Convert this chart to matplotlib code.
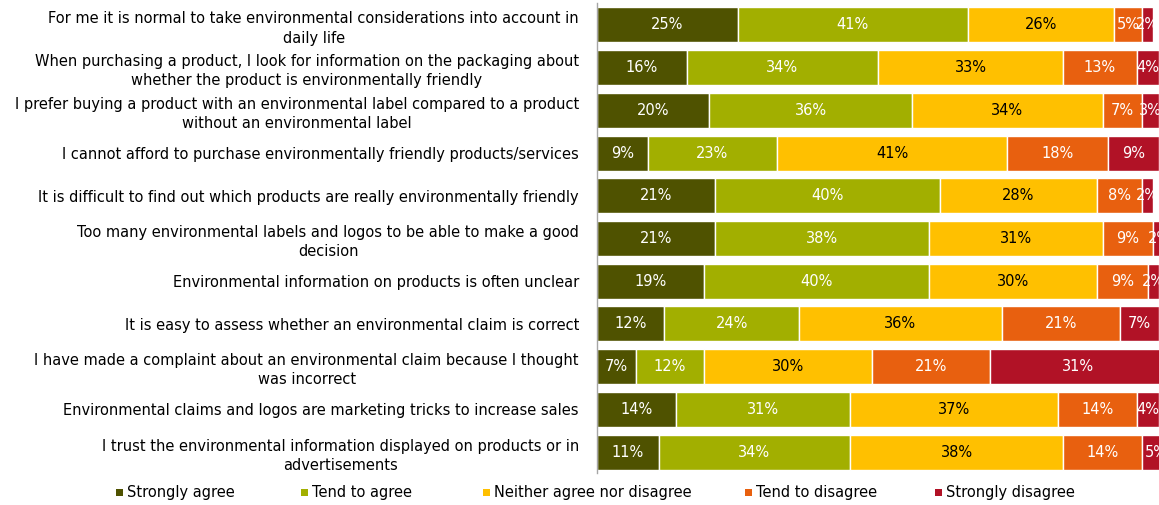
import matplotlib
matplotlib.use("Agg")
import matplotlib.pyplot as plt
from matplotlib.patches import Rectangle
import numpy as np

categories = [
    "For me it is normal to take environmental considerations into account in\ndaily life",
    "When purchasing a product, I look for information on the packaging about\nwhether the product is environmentally friendly",
    "I prefer buying a product with an environmental label compared to a product\nwithout an environmental label",
    "I cannot afford to purchase environmentally friendly products/services",
    "It is difficult to find out which products are really environmentally friendly",
    "Too many environmental labels and logos to be able to make a good\ndecision",
    "Environmental information on products is often unclear",
    "It is easy to assess whether an environmental claim is correct",
    "I have made a complaint about an environmental claim because I thought\nwas incorrect",
    "Environmental claims and logos are marketing tricks to increase sales",
    "I trust the environmental information displayed on products or in\nadvertisements",
]
series_names = ["Strongly agree", "Tend to agree", "Neither agree nor disagree",
                "Tend to disagree", "Strongly disagree"]
strongly_agree    = [25, 16, 20, 9, 21, 21, 19, 12, 7, 14, 11]
tend_agree        = [41, 34, 36, 23, 40, 38, 40, 24, 12, 31, 34]
neither           = [26, 33, 34, 41, 28, 31, 30, 36, 30, 37, 38]
tend_disagree     = [5, 13, 7, 18, 8, 9, 9, 21, 21, 14, 14]
strongly_disagree = [2, 4, 3, 9, 2, 2, 2, 7, 31, 4, 5]

colors = ["#4F5200", "#A2AF00", "#FFC000", "#E8600F", "#B11226"]
text_colors = ["white", "white", "black", "white", "white"]

FS = 10.5
W, H = 1159, 505
fig = plt.figure(figsize=(W / 100, H / 100), dpi=100)
ax = fig.add_axes([597 / W, (505 - 473.5) / H, 1 - 597 / W, 470 / H])

data = [strongly_agree, tend_agree, neither, tend_disagree, strongly_disagree]
y = np.arange(len(categories))
left = np.zeros(len(categories))
for vals, name, c, tc in zip(data, series_names, colors, text_colors):
    vals = np.array(vals, dtype=float)
    ax.barh(y, vals, left=left, height=0.82, color=c, edgecolor="white",
            linewidth=1, label=name)
    for yi, v, l in zip(y, vals, left):
        ax.text(l + v / 2, yi, f"{int(v)}%", ha="center", va="center",
                color=tc, fontsize=FS, clip_on=True)
    left += vals

ax.set_xlim(0, 100)
ax.set_ylim(len(categories) - 0.5, -0.5)
ax.set_yticks(y)
ax.set_yticklabels(categories, fontsize=FS)
for t in ax.get_yticklabels():
    t.set_multialignment("center")
    t.set_linespacing(1.35)
ax.tick_params(axis="y", length=0, pad=13)
ax.set_xticks([])
for s in ["top", "right", "bottom"]:
    ax.spines[s].set_visible(False)
ax.spines["left"].set_color("#A6A6A6")
ax.spines["left"].set_linewidth(1)

# legend, placed entry by entry
marker_x = [116, 301, 483, 745, 935]
ly = 492
for mx, name, c in zip(marker_x, series_names, colors):
    fig.add_artist(Rectangle((mx / W, 1 - (ly + 3.5) / H), 7 / W, 7 / H,
                             transform=fig.transFigure, facecolor=c, edgecolor="none"))
    fig.text((mx + 11) / W, 1 - ly / H, name, ha="left", va="center", fontsize=FS)

fig.savefig("out.png", dpi=100)
